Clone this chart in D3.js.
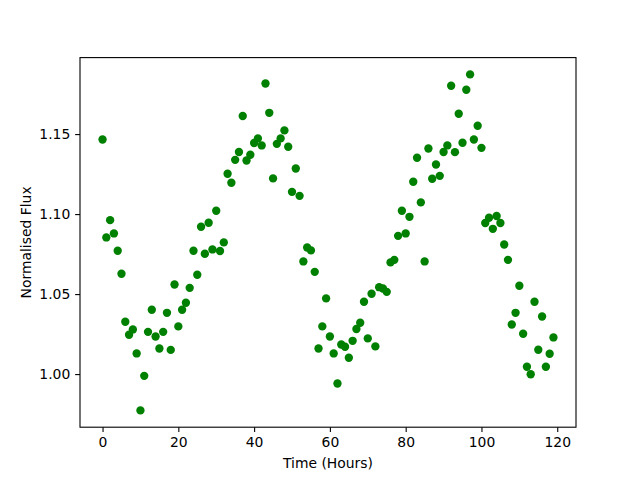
<!DOCTYPE html>
<html>
<head>
<meta charset="utf-8">
<script src="https://cdn.jsdelivr.net/npm/d3@7"></script>
<style>
  body { margin: 0; background: #fff; }
  text { font-family: "DejaVu Sans", sans-serif; }
</style>
</head>
<body>
<svg id="chart" width="640" height="480"></svg>
<script>
// hours since start
const hours = d3.range(0, 120);
// normalised flux, one reading per hour
const flux = [
  1.1466, 1.0854, 1.0962, 1.0879, 1.0771, 1.0627, 1.0327, 1.0246, 1.0279, 1.0129,
  0.9773, 0.9989, 1.0264, 1.0402, 1.0235, 1.0160, 1.0264, 1.0383, 1.0151, 1.0560,
  1.0298, 1.0402, 1.0446, 1.0539, 1.0771, 1.0621, 1.0921, 1.0752, 1.0946, 1.0779,
  1.1021, 1.0769, 1.0823, 1.1252, 1.1196, 1.1339, 1.1388, 1.1613, 1.1335, 1.1371,
  1.1444, 1.1473, 1.1429, 1.1816, 1.1633, 1.1223, 1.1439, 1.1473, 1.1523, 1.1421,
  1.1139, 1.1285, 1.1114, 1.0704, 1.0791, 1.0773, 1.0639, 1.0160, 1.0298, 1.0473,
  1.0235, 1.0129, 0.9941, 1.0185, 1.0171, 1.0102, 1.0208, 1.0282, 1.0321, 1.0452,
  1.0223, 1.0502, 1.0173, 1.0543, 1.0535, 1.0514, 1.0698, 1.0714, 1.0864, 1.1021,
  1.0879, 1.0983, 1.1202, 1.1352, 1.1073, 1.0704, 1.1410, 1.1221, 1.1310, 1.1239,
  1.1388, 1.1429, 1.1802, 1.1387, 1.1627, 1.1446, 1.1777, 1.1873, 1.1466, 1.1552,
  1.1414, 1.0944, 1.0977, 1.0908, 1.0988, 1.0944, 1.0810, 1.0714, 1.0310, 1.0383,
  1.0552, 1.0252, 1.0046, 0.9999, 1.0452, 1.0152, 1.0360, 1.0046, 1.0127, 1.0229
];
const xTicks = [0, 20, 40, 60, 80, 100, 120];
const yTicks = [1.00, 1.05, 1.10, 1.15];

const data = hours.map((h, i) => ({ t: h, f: flux[i] }));

const margin = { top: 57.6, right: 64, bottom: 52.8, left: 80 };
const width = 640 - margin.left - margin.right;
const height = 480 - margin.top - margin.bottom;

// matplotlib style 5% margins
const xe = d3.extent(hours), xp = (xe[1] - xe[0]) * 0.05;
const ye = d3.extent(flux), yp = (ye[1] - ye[0]) * 0.05;

const x = d3.scaleLinear().domain([xe[0] - xp, xe[1] + xp]).range([0, width]);
const y = d3.scaleLinear().domain([ye[0] - yp, ye[1] + yp]).range([height, 0]);

const svg = d3.select("#chart");
const g = svg.append("g").attr("transform", `translate(${margin.left},${margin.top})`);

g.selectAll("circle")
  .data(data)
  .enter()
  .append("circle")
  .attr("cx", d => x(d.t))
  .attr("cy", d => y(d.f))
  .attr("r", 4.17)
  .attr("fill", "#008000");

const xAxis = d3.axisBottom(x).tickValues(xTicks).tickSize(4.86).tickPadding(4.86).tickFormat(d3.format("d"));
const yAxis = d3.axisLeft(y).tickValues(yTicks).tickSize(4.86).tickPadding(4.86).tickFormat(d3.format(".2f"));

const gx = g.append("g").attr("transform", `translate(0,${height})`).call(xAxis);
const gy = g.append("g").call(yAxis);

[gx, gy].forEach(a => {
  a.select(".domain").remove();
  a.selectAll(".tick line").attr("stroke", "#000").attr("stroke-width", 1.1);
  a.selectAll(".tick text").attr("fill", "#000").style("font-size", "13.9px");
});

g.append("rect")
  .attr("width", width)
  .attr("height", height)
  .attr("fill", "none")
  .attr("stroke", "#000")
  .attr("stroke-width", 1.1);

svg.append("text")
  .attr("x", margin.left + width / 2)
  .attr("y", 468)
  .attr("text-anchor", "middle")
  .style("font-size", "13.9px")
  .text("Time (Hours)");

svg.append("text")
  .attr("transform", `translate(31,${margin.top + height / 2}) rotate(-90)`)
  .attr("text-anchor", "middle")
  .style("font-size", "13.9px")
  .text("Normalised Flux");
</script>
</body>
</html>
